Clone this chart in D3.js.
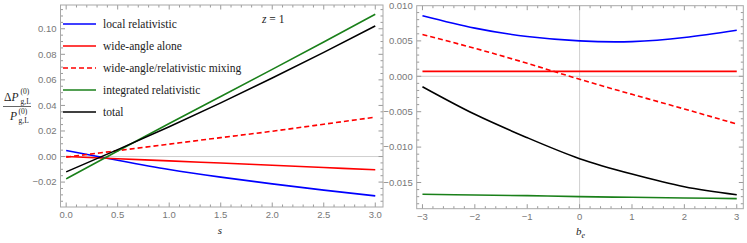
<!DOCTYPE html>
<html>
<head>
<meta charset="utf-8">
<script src="https://cdn.jsdelivr.net/npm/d3@7"></script>
<style>
  html, body { margin: 0; padding: 0; background: #fff; }
  svg { display: block; }
  .tick-label { font-family: "Liberation Sans", "DejaVu Sans", sans-serif; font-size: 9.5px; fill: #777; }
  .serif { font-family: "Liberation Serif", "DejaVu Serif", serif; }
</style>
</head>
<body>
<div id="chart"></div>
<script>
// left panel: z = 1, against s
const sValues = [0, 0.5, 1, 1.5, 2, 2.5, 3];
const localRelS = [0.0047, -0.0029, -0.0102, -0.0161, -0.0214, -0.0263, -0.0308];
const wideAngleS = [0.0000, -0.0017, -0.0034, -0.0051, -0.0068, -0.0086, -0.0104];
const mixingS = [-0.0005, 0.0046, 0.0097, 0.0148, 0.0198, 0.0253, 0.0308];
const integratedS = [-0.0175, 0.0043, 0.0259, 0.0470, 0.0682, 0.0897, 0.1113];
const totalS = [-0.0120, 0.0054, 0.0233, 0.0420, 0.0614, 0.0815, 0.1022];

// right panel: against b_e
const beValues = [-3, -2, -1, 0, 1, 2, 3];
const localRelB = [0.00856, 0.00680, 0.00562, 0.00500, 0.00490, 0.00548, 0.00650];
const wideAngleB = [0.0007, 0.0007, 0.0007, 0.0007, 0.0007, 0.0007, 0.0007];
const mixingB = [0.00590, 0.00395, 0.00183, -0.00042, -0.00255, -0.00462, -0.00674];
const integratedB = [-0.01666, -0.01676, -0.01686, -0.01700, -0.01709, -0.01718, -0.01728];
const totalB = [-0.00147, -0.00537, -0.00867, -0.01163, -0.01380, -0.01559, -0.01672];

// ticks
const leftXTicks = [0, 0.5, 1, 1.5, 2, 2.5, 3];
const leftYTicks = [-0.02, 0, 0.02, 0.04, 0.06, 0.08, 0.10];
const rightXTicks = [-3, -2, -1, 0, 1, 2, 3];
const rightYTicks = [-0.015, -0.010, -0.005, 0, 0.005, 0.010];

const seriesNames = ["local relativistic", "wide-angle alone", "wide-angle/relativistic mixing", "integrated relativistic", "total"];
const seriesColors = ["#0000ff", "#ff0000", "#ff0000", "#1a801a", "#000000"];
const seriesDash = [null, null, "5,3", null, null];

const W = 747, H = 243;
const svg = d3.select("#chart").append("svg")
  .attr("width", W)
  .attr("height", H);

function drawPanel(opt) {
  const g = svg.append("g");
  const x = d3.scaleLinear().domain(opt.xDomain).range(opt.xRange);
  const y = d3.scaleLinear().domain(opt.yDomain).range(opt.yRange);
  const [x0, x1] = opt.xRange;
  const [y1, y0] = opt.yRange;

  const clipId = "clip" + opt.id;
  svg.append("clipPath").attr("id", clipId)
    .append("rect").attr("x", x0).attr("y", y0).attr("width", x1 - x0).attr("height", y1 - y0);

  // zero gridlines
  g.append("line")
    .attr("x1", x0).attr("x2", x1)
    .attr("y1", y(0)).attr("y2", y(0))
    .attr("stroke", "#cfcfcf").attr("stroke-width", 1);
  if (opt.xGrid) {
    g.append("line")
      .attr("x1", x(0)).attr("x2", x(0))
      .attr("y1", y0).attr("y2", y1)
      .attr("stroke", "#cfcfcf").attr("stroke-width", 1);
  }

  // frame ticks (inward, all four sides)
  const tickCol = "#9a9a9a";
  const minorX = d3.range(opt.minorX[0], opt.minorX[1] + 1e-9, opt.minorX[2]);
  const minorY = d3.range(opt.minorY[0], opt.minorY[1] + 1e-9, opt.minorY[2]);
  const isMajor = (v, list) => list.some(t => Math.abs(t - v) < 1e-9);

  minorX.forEach(v => {
    const len = isMajor(v, opt.xTicks) ? 4.5 : 2.5;
    const px = x(v);
    if (px < x0 || px > x1) return;
    g.append("line").attr("x1", px).attr("x2", px).attr("y1", y1).attr("y2", y1 - len).attr("stroke", tickCol);
    g.append("line").attr("x1", px).attr("x2", px).attr("y1", y0).attr("y2", y0 + len).attr("stroke", tickCol);
  });
  minorY.forEach(v => {
    const len = isMajor(v, opt.yTicks) ? 4.5 : 2.5;
    const py = y(v);
    if (py < y0 || py > y1) return;
    g.append("line").attr("x1", x0).attr("x2", x0 + len).attr("y1", py).attr("y2", py).attr("stroke", tickCol);
    g.append("line").attr("x1", x1).attr("x2", x1 - len).attr("y1", py).attr("y2", py).attr("stroke", tickCol);
  });

  // tick labels
  g.selectAll(".xl").data(opt.xTicks).enter().append("text")
    .attr("class", "tick-label")
    .attr("x", d => x(d))
    .attr("y", y1 + 11)
    .attr("text-anchor", "middle")
    .text(d => opt.xFmt(d));
  g.selectAll(".yl").data(opt.yTicks).enter().append("text")
    .attr("class", "tick-label")
    .attr("x", x0 - 4)
    .attr("y", d => y(d) + 3.3)
    .attr("text-anchor", "end")
    .text(d => opt.yFmt(d));

  // curves
  const line = d3.line()
    .x(d => x(d[0]))
    .y(d => y(d[1]))
    .curve(d3.curveNatural);
  const lg = g.append("g").attr("clip-path", `url(#${clipId})`);
  opt.series.forEach((vals, i) => {
    lg.append("path")
      .datum(opt.xs.map((xv, k) => [xv, vals[k]]))
      .attr("d", line)
      .attr("fill", "none")
      .attr("stroke", seriesColors[i])
      .attr("stroke-width", 1.6)
      .attr("stroke-dasharray", seriesDash[i]);
  });

  // frame
  g.append("rect")
    .attr("x", x0).attr("y", y0)
    .attr("width", x1 - x0).attr("height", y1 - y0)
    .attr("fill", "none").attr("stroke", "#a8a8a8").attr("stroke-width", 1);

  return { g, x, y };
}

const fmt2 = d => d3.format(".2f")(d).replace("-", "\u2212");
const fmt1 = d => d3.format(".1f")(d);
const fmt3 = d => d3.format(".3f")(d).replace("-", "\u2212");
const fmt0 = d => d3.format("d")(d).replace("-", "\u2212");

const left = drawPanel({
  id: "L",
  xDomain: [-0.055, 3.075], xRange: [60.5, 383],
  yDomain: [-0.0395, 0.1186], yRange: [207, 5],
  xTicks: leftXTicks, yTicks: leftYTicks,
  minorX: [0, 3, 0.1], minorY: [-0.035, 0.115, 0.005],
  xFmt: fmt1, yFmt: fmt2,
  xs: sValues,
  series: [localRelS, wideAngleS, mixingS, integratedS, totalS],
  xGrid: false
});

const right = drawPanel({
  id: "R",
  xDomain: [-3.11, 3.125], xRange: [416.7, 743.3],
  yDomain: [-0.0187, 0.00997], yRange: [208.7, 5.7],
  xTicks: rightXTicks, yTicks: rightYTicks,
  minorX: [-3, 3, 0.2], minorY: [-0.018, 0.009, 0.001],
  xFmt: fmt0, yFmt: fmt3,
  xs: beValues,
  series: [localRelB, wideAngleB, mixingB, integratedB, totalB],
  xGrid: true
});

// legend
const legend = svg.append("g");
seriesNames.forEach((name, i) => {
  const ly = 24 + i * 22;
  legend.append("line")
    .attr("x1", 63).attr("x2", 96)
    .attr("y1", ly).attr("y2", ly)
    .attr("stroke", seriesColors[i])
    .attr("stroke-width", 1.6)
    .attr("stroke-dasharray", seriesDash[i]);
  legend.append("text")
    .attr("class", "serif")
    .attr("x", 103).attr("y", ly + 3.8)
    .attr("font-size", 11.5)
    .attr("fill", "#222")
    .text(name);
});

// z = 1
const zt = svg.append("text").attr("class", "serif")
  .attr("x", 262).attr("y", 23).attr("font-size", 11.5).attr("fill", "#222");
zt.append("tspan").attr("font-style", "italic").text("z");
zt.append("tspan").text(" = 1");

// axis labels
svg.append("text").attr("class", "serif")
  .attr("x", 220).attr("y", 234).attr("font-size", 11)
  .attr("font-style", "italic").attr("fill", "#222")
  .attr("text-anchor", "middle").text("s");

const be = svg.append("text").attr("class", "serif")
  .attr("x", 576).attr("y", 235).attr("font-size", 11).attr("fill", "#222");
be.append("tspan").attr("font-style", "italic").text("b");
be.append("tspan").attr("font-style", "italic").attr("font-size", 8).attr("dy", 2.5).text("e");

// y label: fraction
const yl = svg.append("g").attr("class", "serif").attr("fill", "#222");
const num = yl.append("text").attr("x", 4).attr("y", 101).attr("font-size", 11.5);
num.append("tspan").text("\u0394");
num.append("tspan").attr("font-style", "italic").text("P");
yl.append("text").attr("x", 20.5).attr("y", 94).attr("font-size", 7.5).text("(0)");
yl.append("text").attr("x", 20.5).attr("y", 103.5).attr("font-size", 7.5).text("g,L");
yl.append("line").attr("x1", 3).attr("x2", 31).attr("y1", 106.5).attr("y2", 106.5)
  .attr("stroke", "#222").attr("stroke-width", 0.7);
yl.append("text").attr("x", 10).attr("y", 120).attr("font-size", 11.5)
  .attr("font-style", "italic").text("P");
yl.append("text").attr("x", 18.5).attr("y", 113.5).attr("font-size", 7.5).text("(0)");
yl.append("text").attr("x", 18.5).attr("y", 123).attr("font-size", 7.5).text("g,L");
</script>
</body>
</html>
